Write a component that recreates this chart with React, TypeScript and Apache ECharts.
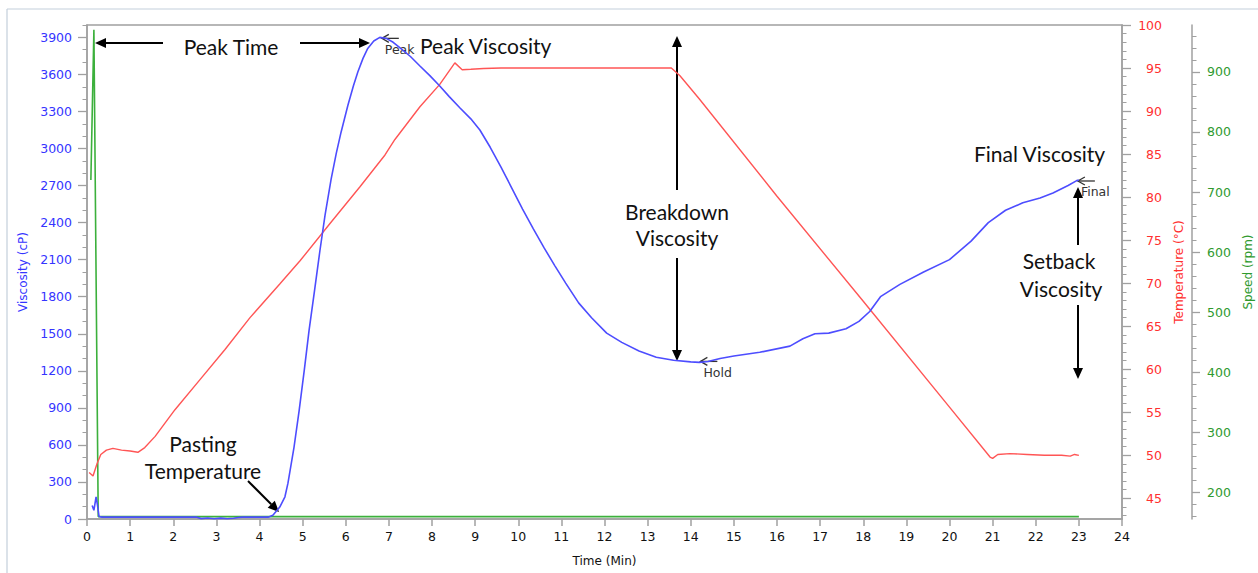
import React, { useEffect, useRef } from "react";
import * as echarts from "echarts";

// ---------- data ----------
const timeTicks = [0, 1, 2, 3, 4, 5, 6, 7, 8, 9, 10, 11, 12, 13, 14, 15, 16, 17, 18, 19, 20, 21, 22, 23, 24];
const viscosityTicks = [0, 300, 600, 900, 1200, 1500, 1800, 2100, 2400, 2700, 3000, 3300, 3600, 3900];
const temperatureTicks = [45, 50, 55, 60, 65, 70, 75, 80, 85, 90, 95, 100];
const speedTicks = [200, 300, 400, 500, 600, 700, 800, 900];

// [time (min), viscosity (cP)]
const viscosityPoints: [number, number][] = [
  [0.12, 110], [0.16, 70], [0.21, 180], [0.24, 120], [0.28, 20], [0.35, 15], [1.0, 15], [2.0, 15],
  [2.55, 15], [2.65, 3], [2.8, 8], [2.95, 2], [3.1, 7], [3.25, 2], [3.4, 6], [3.5, 12], [3.6, 15],
  [4.2, 15], [4.31, 30], [4.47, 97], [4.59, 180], [4.66, 290], [4.8, 580], [4.92, 880], [5.04, 1210],
  [5.15, 1530], [5.28, 1860], [5.4, 2170], [5.52, 2460], [5.66, 2750], [5.78, 2960], [5.89, 3130],
  [6.05, 3350], [6.18, 3510], [6.28, 3620], [6.4, 3730], [6.51, 3810], [6.65, 3870], [6.79, 3900],
  [6.95, 3890], [7.1, 3860], [7.26, 3815], [7.5, 3745], [7.72, 3668], [7.95, 3590], [8.18, 3506],
  [8.4, 3420], [8.65, 3328], [8.9, 3240], [9.11, 3150], [9.35, 3010], [9.6, 2850], [9.85, 2680],
  [10.1, 2510], [10.35, 2350], [10.6, 2195], [10.85, 2050], [11.1, 1910], [11.4, 1750], [11.7, 1630],
  [12.05, 1505], [12.4, 1430], [12.8, 1360], [13.2, 1310], [13.6, 1285], [14.0, 1272], [14.2, 1268],
  [14.4, 1275], [14.68, 1300], [15.0, 1320], [15.6, 1350], [16.3, 1400], [16.6, 1460], [16.88, 1500],
  [17.2, 1505], [17.6, 1540], [17.9, 1600], [18.15, 1680], [18.4, 1800], [18.85, 1900], [19.4, 2000],
  [20.0, 2100], [20.5, 2250], [20.9, 2400], [21.3, 2500], [21.7, 2560], [22.1, 2600], [22.4, 2640],
  [22.75, 2700], [22.95, 2740], [23.0, 2745],
];

// [time (min), temperature (°C)]
const temperaturePoints: [number, number][] = [
  [0.05, 48.0], [0.14, 47.6], [0.23, 49.0], [0.32, 50.1], [0.45, 50.6], [0.6, 50.8], [0.8, 50.6],
  [1.0, 50.5], [1.18, 50.35], [1.34, 50.9], [1.58, 52.2], [2.04, 55.3], [2.62, 58.8], [3.2, 62.3],
  [3.78, 66.0], [4.47, 69.9], [4.94, 72.6], [5.63, 76.9], [6.33, 81.2], [6.91, 84.9], [7.14, 86.7],
  [7.72, 90.5], [8.18, 93.1], [8.53, 95.6], [8.7, 94.8], [8.9, 94.85], [9.2, 94.95], [9.6, 95.0],
  [13.55, 95.0], [13.75, 94.1], [14.2, 91.4], [16.0, 80.1], [18.0, 67.9], [20.0, 55.6], [20.94, 49.8],
  [21.0, 49.65], [21.12, 50.1], [21.4, 50.2], [21.8, 50.1], [22.2, 50.0], [22.6, 50.0], [22.8, 49.9],
  [22.9, 50.1], [23.0, 50.0],
];

// [time (min), speed (rpm)]
const speedPoints: [number, number][] = [
  [0.09, 720], [0.16, 970], [0.26, 160], [23.0, 160],
];

// ---------- styling helpers ----------
const AX_FONT = "DejaVu Sans";
const ANN_FONT = "Lato";
const BLUE = "#3535ff";
const RED = "#ff3030";
const GREEN = "#2f9a2f";
const AXIS_GREY = "#a0a0a0";

function minorValues(min: number, max: number, step: number, major: number): number[] {
  const out: number[] = [];
  for (let v = min; v <= max + 1e-9; v += step) {
    const r = Math.round(v * 1000) / 1000;
    if (Math.abs(r / major - Math.round(r / major)) > 1e-6) out.push(r);
  }
  return out;
}

function arrow(x1: number, y1: number, x2: number, y2: number, head = 11, w = 10, lw = 2): any[] {
  const dx = x2 - x1, dy = y2 - y1;
  const len = Math.hypot(dx, dy);
  const ux = dx / len, uy = dy / len;
  const bx = x2 - ux * head, by = y2 - uy * head;
  const nx = -uy, ny = ux;
  return [
    { type: "line", silent: true, shape: { x1, y1, x2: bx, y2: by }, style: { stroke: "#000", lineWidth: lw } },
    {
      type: "polygon", silent: true,
      shape: { points: [[x2, y2], [bx + nx * w / 2, by + ny * w / 2], [bx - nx * w / 2, by - ny * w / 2]] },
      style: { fill: "#000" },
    },
  ];
}

function marker(px: number, py: number, label: string): any[] {
  return [
    { type: "line", silent: true, shape: { x1: px, y1: py, x2: px + 17, y2: py }, style: { stroke: "#333", lineWidth: 1.3 } },
    { type: "polyline", silent: true, shape: { points: [[px + 7, py - 4], [px, py], [px + 7, py + 4]] }, style: { stroke: "#333", lineWidth: 1.3, fill: null } },
    {
      type: "text", silent: true, x: px + 3, y: py + 11,
      style: { text: label, fontFamily: AX_FONT, fontSize: 12.5, fill: "#333", align: "left", verticalAlign: "middle" },
    },
  ];
}

function annText(x: number, y: number, text: string, align = "center"): any {
  return {
    type: "text", silent: true, x, y,
    style: { text, fontFamily: ANN_FONT, fontSize: 21, fill: "#111", align, verticalAlign: "middle" },
  };
}

function yAxisBase(extra: any): any {
  return {
    type: "value",
    splitLine: { show: false },
    axisLine: { show: true, onZero: false, lineStyle: { color: AXIS_GREY, width: 1.5 } },
    ...extra,
  };
}

const plain = (v: number) => String(v);

export default function App() {
  const ref = useRef<HTMLDivElement>(null);

  useEffect(() => {
    if (!ref.current) return;
    const chart = echarts.init(ref.current, undefined, { renderer: "svg" });

    const option: any = {
      animation: false,
      backgroundColor: "#fff",
      textStyle: { fontFamily: AX_FONT },
      grid: {
        left: 87, top: 25, width: 1035, height: 494,
        show: true, borderColor: AXIS_GREY, borderWidth: 1.5, backgroundColor: "transparent",
        containLabel: false,
        outerBoundsMode: "none",
      },
      xAxis: {
        type: "value", min: 0, max: 24, interval: 1,
        name: "Time (Min)", nameLocation: "middle", nameGap: 36,
        nameTextStyle: { color: "#111", fontSize: 12, fontFamily: AX_FONT },
        axisLine: { show: true, onZero: false, lineStyle: { color: AXIS_GREY, width: 1.5 } },
        axisTick: { show: true, length: 7, lineStyle: { color: AXIS_GREY, width: 1.5 }, customValues: timeTicks },
        axisLabel: { color: "#111", fontSize: 12.5, margin: 11, fontFamily: AX_FONT, customValues: timeTicks, formatter: plain },
        splitLine: { show: false },
      },
      yAxis: [
        yAxisBase({
          position: "left", min: 0, max: 4000,
          name: "Viscosity (cP)", nameLocation: "middle", nameGap: 46, nameRotate: 90,
          nameTextStyle: { color: BLUE, fontSize: 12, fontFamily: AX_FONT },
          axisTick: { show: true, length: 9, customValues: viscosityTicks, lineStyle: { color: AXIS_GREY, width: 1.3 } },
          axisLabel: { customValues: viscosityTicks, margin: 15, color: BLUE, fontSize: 12.5, fontFamily: AX_FONT, formatter: plain },
        }),
        yAxisBase({
          position: "right", offset: 0, min: 42.6, max: 100,
          name: "Temperature (°C)", nameLocation: "middle", nameGap: 50, nameRotate: 90,
          nameTextStyle: { color: RED, fontSize: 12, fontFamily: AX_FONT },
          axisTick: { show: true, length: 9, customValues: temperatureTicks, lineStyle: { color: AXIS_GREY, width: 1.3 } },
          axisLabel: { customValues: temperatureTicks, margin: 40, align: "right", color: RED, fontSize: 12.5, fontFamily: AX_FONT, formatter: plain },
        }),
        yAxisBase({
          position: "right", offset: 70, min: 156, max: 978,
          name: "Speed (rpm)", nameLocation: "middle", nameGap: 49, nameRotate: 90,
          nameTextStyle: { color: GREEN, fontSize: 12, fontFamily: AX_FONT },
          axisTick: { show: true, length: 8, customValues: speedTicks, lineStyle: { color: AXIS_GREY, width: 1.3 } },
          axisLabel: { customValues: speedTicks, margin: 15, color: GREEN, fontSize: 12.5, fontFamily: AX_FONT, formatter: plain },
        }),
        // minor tick axes
        {
          type: "value", position: "left", min: 0, max: 4000,
          axisLine: { show: false }, axisLabel: { show: false }, splitLine: { show: false },
          axisTick: { show: true, length: 4.5, customValues: minorValues(0, 4000, 100, 300), lineStyle: { color: AXIS_GREY, width: 1 } },
        },
        {
          type: "value", position: "right", offset: 0, min: 42.6, max: 100,
          axisLine: { show: false }, axisLabel: { show: false }, splitLine: { show: false },
          axisTick: { show: true, length: 4.5, customValues: minorValues(43, 99, 1, 5), lineStyle: { color: AXIS_GREY, width: 1 } },
        },
        {
          type: "value", position: "right", offset: 70, min: 156, max: 978,
          axisLine: { show: false }, axisLabel: { show: false }, splitLine: { show: false },
          axisTick: { show: true, length: 4.5, customValues: minorValues(160, 960, 20, 100), lineStyle: { color: AXIS_GREY, width: 1 } },
        },
      ],
      series: [
        {
          name: "Speed", type: "line", xAxisIndex: 0, yAxisIndex: 2, data: speedPoints,
          showSymbol: false, lineStyle: { color: "#3cb03c", width: 1.6 }, silent: true, z: 1,
        },
        {
          name: "Temperature", type: "line", xAxisIndex: 0, yAxisIndex: 1, data: temperaturePoints,
          showSymbol: false, lineStyle: { color: "#ff5555", width: 1.4 }, silent: true, z: 2,
        },
        {
          name: "Viscosity", type: "line", xAxisIndex: 0, yAxisIndex: 0, data: viscosityPoints,
          showSymbol: false, lineStyle: { color: "#4d4dff", width: 1.6 }, silent: true, z: 3,
        },
      ],
    };
    chart.setOption(option);

    // Marker points derived from data
    let peakIdx = 0;
    viscosityPoints.forEach((p, i) => { if (p[1] > viscosityPoints[peakIdx][1]) peakIdx = i; });
    let holdIdx = peakIdx;
    for (let i = peakIdx; i < viscosityPoints.length; i++) if (viscosityPoints[i][1] < viscosityPoints[holdIdx][1]) holdIdx = i;
    const finalIdx = viscosityPoints.length - 1;
    const toPx = (p: [number, number]) => chart.convertToPixel({ xAxisIndex: 0, yAxisIndex: 0 }, p) as number[];
    const pk = toPx(viscosityPoints[peakIdx]);
    const hd = toPx(viscosityPoints[holdIdx]);
    const fn = toPx(viscosityPoints[finalIdx]);

    const graphics: any[] = [
      { type: "line", silent: true, shape: { x1: 7, y1: 9, x2: 1258, y2: 9 }, style: { stroke: "#c3cfdb", lineWidth: 1.2 } },
      { type: "line", silent: true, shape: { x1: 7, y1: 9, x2: 7, y2: 573 }, style: { stroke: "#c3cfdb", lineWidth: 1.2 } },
      ...marker(pk[0] + 2, pk[1] + 1, "Peak"),
      ...marker(hd[0] + 1, hd[1] - 1, "Hold"),
      ...marker(fn[0] - 1, fn[1] + 1, "Final"),
      // Peak time
      annText(231, 46, "Peak Time"),
      ...arrow(163, 43, 95, 43),
      ...arrow(300, 43, 370, 43),
      annText(420, 45, "Peak Viscosity", "left"),
      // Breakdown
      annText(677, 211, "Breakdown"),
      annText(677, 237, "Viscosity"),
      ...arrow(677, 190, 677, 36),
      ...arrow(677, 258, 677, 361),
      // Final / Setback
      annText(974, 153, "Final Viscosity", "left"),
      annText(1059, 260, "Setback"),
      annText(1061, 288, "Viscosity"),
      ...arrow(1078, 245, 1078, 187),
      ...arrow(1078, 305, 1078, 379),
      // Pasting temperature
      annText(203, 443, "Pasting"),
      annText(203, 470, "Temperature"),
      ...arrow(248, 481, 279, 512),
    ];
    chart.setOption({ graphic: graphics });

    return () => chart.dispose();
  }, []);

  return (
    <div
      ref={ref}
      style={{ position: "fixed", left: 0, top: 0, width: 1258, height: 573, background: "#fff" }}
    />
  );
}
